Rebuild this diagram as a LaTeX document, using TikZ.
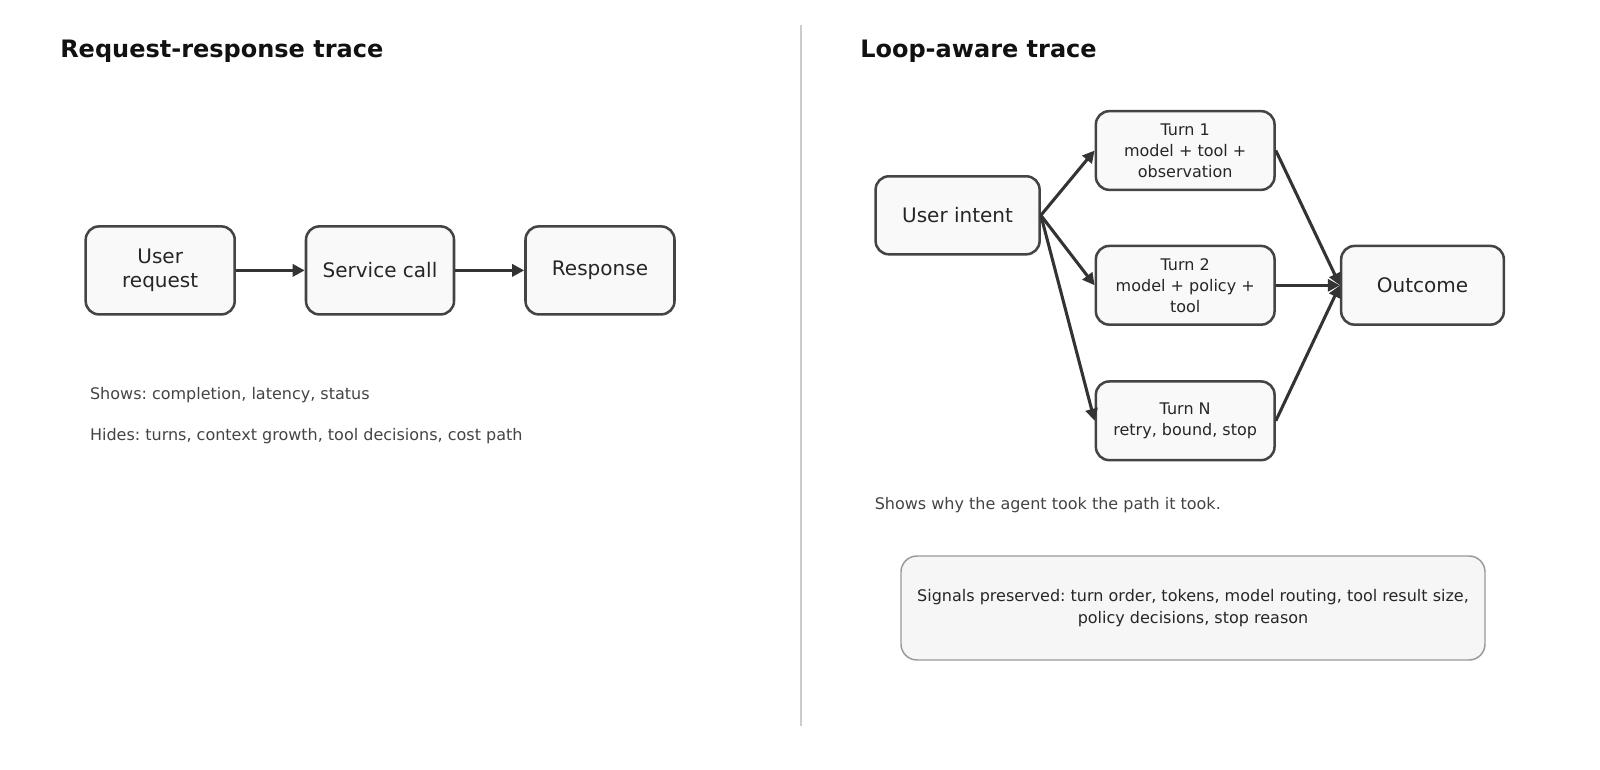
\documentclass[tikz,border=0pt]{standalone}
\usepackage{fontspec}
\setmainfont{DejaVu Sans}
\usetikzlibrary{arrows.meta}
\frenchspacing
\definecolor{boxline}{HTML}{444444}
\definecolor{boxfill}{HTML}{F9F9F9}
\definecolor{arrowcol}{HTML}{333333}
\definecolor{textgray}{HTML}{444444}
\definecolor{divcol}{HTML}{CCCCCC}
\definecolor{sigline}{HTML}{999999}
\definecolor{sigfill}{HTML}{F6F6F6}
\definecolor{titlecol}{HTML}{111111}
\tikzset{
  titletext/.style={anchor=base west, inner sep=0pt, font=\fontsize{18}{22}\selectfont\bfseries, text=titlecol},
  bigbox/.style={draw=boxline, fill=boxfill, line width=1.9pt, rounded corners=10pt, align=center,
    inner sep=2pt, font=\fontsize{15}{18.4}\selectfont, text=black!85},
  smallbox/.style={draw=boxline, fill=boxfill, line width=1.9pt, rounded corners=10pt, align=center,
    inner sep=2pt, font=\fontsize{12}{15.75}\selectfont, text=black!85},
  note/.style={anchor=base west, inner sep=0pt, font=\fontsize{12}{15}\selectfont, text=textgray},
  arr/.style={draw=arrowcol, line width=2.3pt, -{Triangle[length=9pt,width=9pt]}},
}
\begin{document}
\begin{tikzpicture}[x=0.75pt,y=-0.75pt]
\useasboundingbox (0,0) rectangle (1600,770);
% divider
\draw[divcol, line width=1.2pt] (801,25.5) coordinate (d1) -- (801,725.5) coordinate (d2);
% titles
\node[titletext] (t-left) at (60,57.5) {Request-response trace};
\node[titletext] (t-right) at (860,57.5) {Loop-aware trace};
% left boxes
\node[bigbox, minimum width=111.75pt, minimum height=66pt] (ur) at (160.2,270.4) {User\\request};
\node[bigbox, minimum width=111pt, minimum height=66pt] (sc) at (380,270.4) {Service call};
\node[bigbox, minimum width=111.75pt, minimum height=66pt] (rs) at (600,270.4) {Response};
\draw[arr] (ur) -- (sc);
\draw[arr] (sc) -- (rs);
\node[note] (n1) at (89.8,399.5) {Shows: completion, latency, status};
\node[note] (n2) at (89.8,440) {Hides: turns, context growth, tool decisions, cost path};
% right boxes
\node[bigbox, minimum width=123pt, minimum height=58.5pt] (ui) at (957.6,215.3) {User intent};
\node[smallbox, minimum width=134pt, minimum height=59pt] (t1) at (1185.2,150.5) {Turn 1\\model + tool +\\observation};
\node[smallbox, minimum width=134pt, minimum height=59pt] (t2) at (1185.2,285.3) {Turn 2\\model + policy +\\tool};
\node[smallbox, minimum width=134pt, minimum height=59pt] (tn) at (1185.2,420.8) {Turn N\\retry, bound, stop};
\node[bigbox, minimum width=122pt, minimum height=59pt] (oc) at (1422.5,285.3) {Outcome};
\draw[arr] (ui.east) -- (t1.west);
\draw[arr] (ui.east) -- (t2.west);
\draw[arr] (ui.east) -- (tn.west);
\draw[arr] (t1.east) -- (oc.west);
\draw[arr] (t2.east) -- (oc.west);
\draw[arr] (tn.east) -- (oc.west);
\node[note] (n3) at (874.5,509) {Shows why the agent took the path it took.};
\node[draw=sigline, fill=sigfill, line width=1.1pt, rounded corners=12pt, minimum width=438pt, minimum height=78pt,
  align=center, font=\fontsize{12}{16.8}\selectfont, text=black!85] (sig) at (1193,608)
  {Signals preserved: turn order, tokens, model routing, tool result size,\\policy decisions, stop reason};
\end{tikzpicture}
\end{document}
